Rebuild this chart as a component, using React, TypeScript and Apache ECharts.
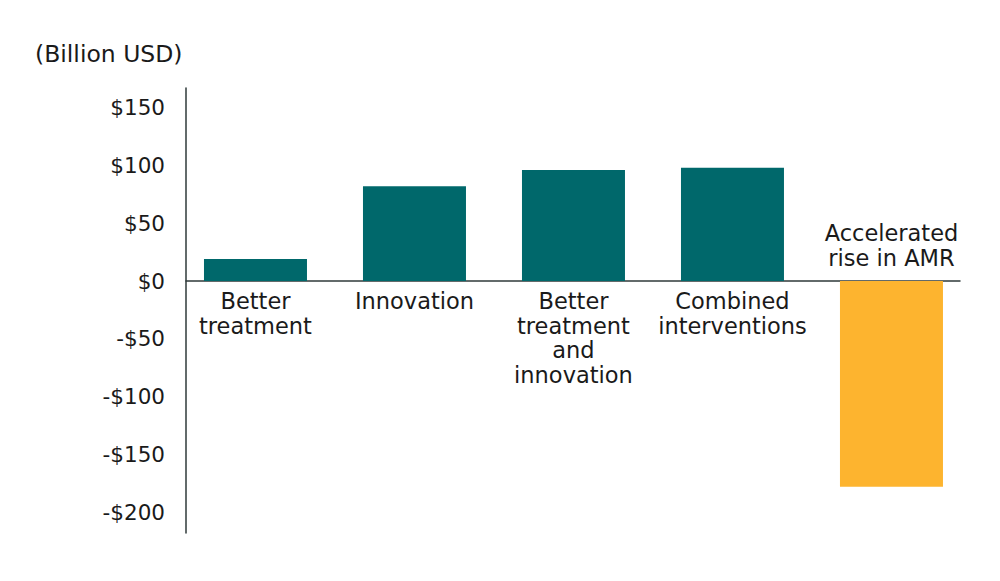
import { useRef, useEffect } from "react";
import * as echarts from "echarts";

const CATEGORIES = [
  "Better\ntreatment",
  "Innovation",
  "Better\ntreatment\nand\ninnovation",
  "Combined\ninterventions",
  "Accelerated\nrise in AMR",
];
const VALUES = [19, 82, 96, 98, -178];
const Y_TICKS = [-200, -150, -100, -50, 0, 50, 100, 150];

const TEAL = "#00686b";
const GOLD = "#fdb42f";
const FONT = "'DejaVu Sans', 'Noto Sans', sans-serif";

export default function App() {
  const chartRef = useRef<HTMLDivElement>(null);

  useEffect(() => {
    document.body.style.margin = "0";
    if (!chartRef.current) return;
    const chart = echarts.init(chartRef.current, null, { renderer: "svg" });

    const data = VALUES.map((v, i) => ({
      value: [i, v],
      itemStyle: { color: v < 0 ? GOLD : TEAL },
      label: {
        position: v < 0 ? ("top" as const) : ("bottom" as const),
        distance: v < 0 ? 11 : 8,
      },
    }));

    const option: echarts.EChartsOption = {
      animation: false,
      textStyle: { fontFamily: FONT },
      title: {
        text: "(Billion USD)",
        left: 30,
        top: 37,
        textStyle: { fontSize: 23.5, fontWeight: "normal", color: "#1a1a1a", fontFamily: FONT },
      },
      grid: { left: 186, right: 40, top: 88, bottom: 48 },
      xAxis: {
        type: "value",
        min: -0.437,
        max: 4.431,
        axisLine: { show: true, onZero: true, lineStyle: { color: "#2f3a3a", width: 1.5 } },
        axisTick: { show: false },
        axisLabel: { show: false },
        splitLine: { show: false },
      },
      yAxis: {
        type: "value",
        min: -218,
        max: 167,
        axisLine: { show: true, onZero: false, lineStyle: { color: "#2f3a3a", width: 1.5 } },
        axisTick: { show: false },
        splitLine: { show: false },
        axisLabel: {
          customValues: Y_TICKS,
          margin: 21,
          fontSize: 21.5,
          color: "#1a1a1a",
          fontFamily: FONT,
          formatter: (v: number) => (v < 0 ? `-$${-v}` : `$${v}`),
        },
      },
      series: [
        {
          type: "bar",
          barWidth: 103,
          data,
          label: {
            show: true,
            fontSize: 22.5,
            lineHeight: 24.5,
            color: "#1a1a1a",
            fontFamily: FONT,
            align: "center",
            formatter: (p: any) => CATEGORIES[p.dataIndex],
          },
        },
      ],
    };

    chart.setOption(option);
    return () => chart.dispose();
  }, []);

  return <div ref={chartRef} style={{ width: 1000, height: 581 }} />;
}
